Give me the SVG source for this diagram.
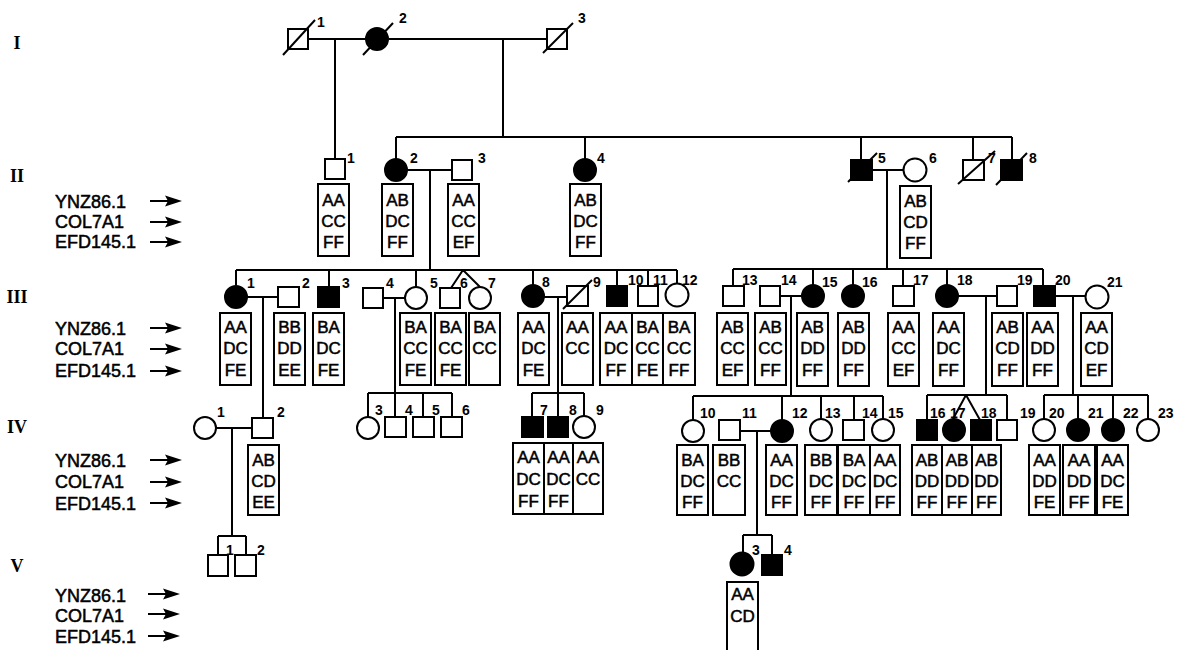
<svg xmlns="http://www.w3.org/2000/svg" width="1179" height="650" viewBox="0 0 1179 650">
<style>
.s{fill:#fff;stroke:#000;stroke-width:2}
.a{fill:#000;stroke:#000;stroke-width:2}
.ln{fill:none;stroke:#000;stroke-width:2}
.bx{fill:none;stroke:#000;stroke-width:2}
.g{font-family:"Liberation Sans",Arial,sans-serif;font-size:17px;text-anchor:middle;fill:#000;stroke:#000;stroke-width:0.5}
.n{font-family:"Liberation Sans",Arial,sans-serif;font-size:14px;font-weight:bold;fill:#000}
.m{font-family:"Liberation Sans",Arial,sans-serif;font-size:18px;fill:#000;stroke:#000;stroke-width:0.5}
.gen{font-family:"Liberation Serif","Times New Roman",serif;font-size:18px;font-weight:bold;text-anchor:middle;fill:#000}
</style>
<defs>
<g id="arr"><line x1="0" y1="0" x2="20" y2="0" stroke="#000" stroke-width="2"/><polygon points="15,-5.5 32,0 15,5.5 18,0" fill="#000"/></g>
</defs>
<rect width="1179" height="650" fill="#fff"/>

<g id="legend">
<text class="gen" x="17" y="49">I</text>
<text class="gen" x="17" y="182">II</text>
<text class="gen" x="17" y="303">III</text>
<text class="gen" x="17" y="433">IV</text>
<text class="gen" x="17" y="572">V</text>
<text class="m" x="55" y="208">YNZ86.1</text><text class="m" x="55" y="228">COL7A1</text><text class="m" x="55" y="248">EFD145.1</text>
<use href="#arr" x="150" y="201"/><use href="#arr" x="150" y="222"/><use href="#arr" x="150" y="242"/>
<text class="m" x="55" y="335">YNZ86.1</text><text class="m" x="55" y="355">COL7A1</text><text class="m" x="55" y="377">EFD145.1</text>
<use href="#arr" x="150" y="328"/><use href="#arr" x="150" y="349"/><use href="#arr" x="150" y="371"/>
<text class="m" x="55" y="467">YNZ86.1</text><text class="m" x="55" y="488">COL7A1</text><text class="m" x="55" y="510">EFD145.1</text>
<use href="#arr" x="150" y="460"/><use href="#arr" x="150" y="482"/><use href="#arr" x="150" y="503"/>
<text class="m" x="55" y="602">YNZ86.1</text><text class="m" x="55" y="622">COL7A1</text><text class="m" x="55" y="643">EFD145.1</text>
<use href="#arr" x="148" y="594"/><use href="#arr" x="148" y="614"/><use href="#arr" x="148" y="636"/>
</g>

<g id="connectors" class="ln">
<path d="M308 39H366M335 39V159M389 39H547M503 39V137M396 137H1012"/>
<path d="M396 137V159M585 137V159M861 137V160M973 137V160M1012 137V160"/>
<path d="M407 170H452M430 170V270M872 170H903M887 170V269"/>
<path d="M236 270H677M236 270V285M329 270V287M416 270V287M533 270V285M617 270V286M648 270V286M677 270V284M463 270L451 288M463 270L480 287"/>
<path d="M733 269H1043M733 269V286M813 269V285M853 269V285M903 269V286M947 269V285M1043 269V286"/>
<path d="M247 297H278M263 297V418M383 298H405M395 298V417M544 297H567M558 297V417"/>
<path d="M780 296H802M791 296V396M958 296H997M986 296V395M1055 296H1086M1073 296V395"/>
<path d="M368 393H452M368 393V417M423 393V417M452 393V417M532 393V417M532 393H584M584 393V416"/>
<path d="M693 396H883M693 396V420M782 396V420M821 396V419M854 396V420M883 396V419"/>
<path d="M927 395H1007M927 395V420M1007 395V420M966 395L953 419M966 395L980 420"/>
<path d="M1044 395H1148M1044 395V419M1078 395V419M1113 395V419M1148 395V419"/>
<path d="M216 428H252M232 428V536M218 536H246M218 536V555M246 536V555"/>
<path d="M740 431H771M757 431V535M743 535H772M743 535V553M772 535V555"/>
</g>

<g id="I-1"><rect class="s" x="288" y="29" width="20" height="20"/><line class="ln" x1="283" y1="55" x2="315" y2="20"/><text class="n" x="317" y="27">1</text></g>
<g id="I-2"><circle class="a" cx="377" cy="39" r="11"/><line class="ln" x1="363" y1="55" x2="393" y2="23"/><text class="n" x="399" y="23">2</text></g>
<g id="I-3"><rect class="s" x="547" y="29" width="20" height="20"/><line class="ln" x1="543" y1="53" x2="573" y2="23"/><text class="n" x="578" y="23">3</text></g>

<g id="II-1"><rect class="s" x="325" y="159" width="20" height="20"/><text class="n" x="347" y="163">1</text>
<rect class="bx" x="318" y="184" width="31" height="72"/><text class="g" x="333.5" y="206">AA</text><text class="g" x="333.5" y="227">CC</text><text class="g" x="333.5" y="248">FF</text></g>
<g id="II-2"><circle class="a" cx="396" cy="170" r="11"/><text class="n" x="410" y="163">2</text>
<rect class="bx" x="382" y="184" width="31" height="72"/><text class="g" x="397.5" y="206">AB</text><text class="g" x="397.5" y="227">DC</text><text class="g" x="397.5" y="248">FF</text></g>
<g id="II-3"><rect class="s" x="452" y="160" width="20" height="20"/><text class="n" x="478" y="163">3</text>
<rect class="bx" x="448" y="184" width="31" height="72"/><text class="g" x="463.5" y="206">AA</text><text class="g" x="463.5" y="227">CC</text><text class="g" x="463.5" y="248">EF</text></g>
<g id="II-4"><circle class="a" cx="585" cy="170" r="11"/><text class="n" x="597" y="163">4</text>
<rect class="bx" x="570" y="184" width="31" height="72"/><text class="g" x="585.5" y="206">AB</text><text class="g" x="585.5" y="227">DC</text><text class="g" x="585.5" y="248">FF</text></g>
<g id="II-5"><rect class="a" x="851" y="160" width="21" height="20"/><line class="ln" x1="848" y1="182" x2="877" y2="153"/><text class="n" x="878" y="163">5</text></g>
<g id="II-6"><circle class="s" cx="915" cy="170" r="11.5"/><text class="n" x="929" y="163">6</text>
<rect class="bx" x="900" y="186" width="31" height="72"/><text class="g" x="915.5" y="207">AB</text><text class="g" x="915.5" y="228">CD</text><text class="g" x="915.5" y="249">FF</text></g>
<g id="II-7"><rect class="s" x="963" y="160" width="21" height="20"/><line class="ln" x1="958" y1="184" x2="995" y2="151"/><text class="n" x="988" y="163">7</text></g>
<g id="II-8"><rect class="a" x="1001" y="160" width="21" height="20"/><line class="ln" x1="996" y1="185" x2="1027" y2="153"/><text class="n" x="1029" y="163">8</text></g>

<g id="III-1"><circle class="a" cx="236" cy="297" r="11"/><text class="n" x="247" y="288">1</text>
<rect class="bx" x="220" y="313" width="31" height="72"/><text class="g" x="235.5" y="333">AA</text><text class="g" x="235.5" y="354">DC</text><text class="g" x="235.5" y="376">FE</text></g>
<g id="III-2"><rect class="s" x="278" y="287" width="21" height="20"/><text class="n" x="302" y="288">2</text>
<rect class="bx" x="274" y="313" width="31" height="72"/><text class="g" x="289.5" y="333">BB</text><text class="g" x="289.5" y="354">DD</text><text class="g" x="289.5" y="376">EE</text></g>
<g id="III-3"><rect class="a" x="318" y="287" width="21" height="20"/><text class="n" x="342" y="288">3</text>
<rect class="bx" x="313" y="313" width="31" height="72"/><text class="g" x="328.5" y="333">BA</text><text class="g" x="328.5" y="354">DC</text><text class="g" x="328.5" y="376">FE</text></g>
<g id="III-4"><rect class="s" x="363" y="288" width="20" height="20"/><text class="n" x="386" y="288">4</text></g>
<g id="III-5"><circle class="s" cx="416" cy="298" r="11"/><text class="n" x="430" y="288">5</text>
<rect class="bx" x="400" y="313" width="31" height="72"/><text class="g" x="415.5" y="333">BA</text><text class="g" x="415.5" y="354">CC</text><text class="g" x="415.5" y="376">FE</text></g>
<g id="III-6"><rect class="s" x="440" y="288" width="20" height="20"/><text class="n" x="460" y="288">6</text>
<rect class="bx" x="435" y="313" width="31" height="72"/><text class="g" x="450.5" y="333">BA</text><text class="g" x="450.5" y="354">CC</text><text class="g" x="450.5" y="376">FE</text></g>
<g id="III-7"><circle class="s" cx="480" cy="298" r="11"/><text class="n" x="488" y="288">7</text>
<rect class="bx" x="469" y="313" width="31" height="72"/><text class="g" x="484.5" y="333">BA</text><text class="g" x="484.5" y="354">CC</text></g>
<g id="III-8"><circle class="a" cx="533" cy="296" r="11"/><text class="n" x="542" y="287">8</text>
<rect class="bx" x="518" y="313" width="31" height="72"/><text class="g" x="533.5" y="333">AA</text><text class="g" x="533.5" y="354">DC</text><text class="g" x="533.5" y="376">FE</text></g>
<g id="III-9"><rect class="s" x="567" y="286" width="21" height="20"/><line class="ln" x1="563" y1="309" x2="592" y2="280"/><text class="n" x="593" y="287">9</text>
<rect class="bx" x="562" y="313" width="31" height="72"/><text class="g" x="577.5" y="333">AA</text><text class="g" x="577.5" y="354">CC</text></g>
<g id="III-10"><rect class="a" x="607" y="286" width="20" height="20"/><text class="n" x="628" y="285">10</text>
<rect class="bx" x="600" y="313" width="32" height="72"/><text class="g" x="616" y="333">AA</text><text class="g" x="616" y="354">DC</text><text class="g" x="616" y="376">FF</text></g>
<g id="III-11"><rect class="s" x="638" y="286" width="20" height="20"/><text class="n" x="653" y="285">11</text>
<rect class="bx" x="632" y="313" width="31" height="72"/><text class="g" x="647.5" y="333">BA</text><text class="g" x="647.5" y="354">CC</text><text class="g" x="647.5" y="376">FE</text></g>
<g id="III-12"><circle class="s" cx="677" cy="295" r="11.5"/><text class="n" x="682" y="285">12</text>
<rect class="bx" x="663" y="313" width="32" height="72"/><text class="g" x="679" y="333">BA</text><text class="g" x="679" y="354">CC</text><text class="g" x="679" y="376">FF</text></g>
<g id="III-13"><rect class="s" x="723" y="286" width="21" height="20"/><text class="n" x="742" y="285">13</text>
<rect class="bx" x="717" y="313" width="31" height="72"/><text class="g" x="732.5" y="333">AB</text><text class="g" x="732.5" y="354">CC</text><text class="g" x="732.5" y="376">EF</text></g>
<g id="III-14"><rect class="s" x="760" y="286" width="20" height="20"/><text class="n" x="781" y="285">14</text>
<rect class="bx" x="755" y="313" width="31" height="72"/><text class="g" x="770.5" y="333">AB</text><text class="g" x="770.5" y="354">CC</text><text class="g" x="770.5" y="376">FF</text></g>
<g id="III-15"><circle class="a" cx="813" cy="296" r="11"/><text class="n" x="822" y="287">15</text>
<rect class="bx" x="797" y="313" width="31" height="73"/><text class="g" x="812.5" y="333">AB</text><text class="g" x="812.5" y="354">DD</text><text class="g" x="812.5" y="376">FF</text></g>
<g id="III-16"><circle class="a" cx="853" cy="296" r="11"/><text class="n" x="862" y="287">16</text>
<rect class="bx" x="838" y="313" width="31" height="73"/><text class="g" x="853.5" y="333">AB</text><text class="g" x="853.5" y="354">DD</text><text class="g" x="853.5" y="376">FF</text></g>
<g id="III-17"><rect class="s" x="893" y="286" width="21" height="20"/><text class="n" x="913" y="285">17</text>
<rect class="bx" x="888" y="313" width="31" height="73"/><text class="g" x="903.5" y="333">AA</text><text class="g" x="903.5" y="354">CC</text><text class="g" x="903.5" y="376">EF</text></g>
<g id="III-18"><circle class="a" cx="947" cy="296" r="11"/><text class="n" x="957" y="285">18</text>
<rect class="bx" x="933" y="313" width="31" height="73"/><text class="g" x="948.5" y="333">AA</text><text class="g" x="948.5" y="354">DC</text><text class="g" x="948.5" y="376">FF</text></g>
<g id="III-19"><rect class="s" x="997" y="286" width="20" height="20"/><text class="n" x="1017" y="285">19</text>
<rect class="bx" x="992" y="313" width="31" height="73"/><text class="g" x="1007.5" y="333">AB</text><text class="g" x="1007.5" y="354">CD</text><text class="g" x="1007.5" y="376">FF</text></g>
<g id="III-20"><rect class="a" x="1034" y="286" width="21" height="20"/><text class="n" x="1055" y="285">20</text>
<rect class="bx" x="1027" y="313" width="31" height="73"/><text class="g" x="1042.5" y="333">AA</text><text class="g" x="1042.5" y="354">DD</text><text class="g" x="1042.5" y="376">FF</text></g>
<g id="III-21"><circle class="s" cx="1097" cy="297" r="11.5"/><text class="n" x="1107" y="287">21</text>
<rect class="bx" x="1081" y="313" width="31" height="73"/><text class="g" x="1096.5" y="333">AA</text><text class="g" x="1096.5" y="354">CD</text><text class="g" x="1096.5" y="376">EF</text></g>

<g id="IV-1"><circle class="s" cx="205" cy="428" r="11"/><text class="n" x="217" y="417">1</text></g>
<g id="IV-2"><rect class="s" x="252" y="418" width="21" height="20"/><text class="n" x="277" y="417">2</text>
<rect class="bx" x="248" y="445" width="31" height="70"/><text class="g" x="263.5" y="466">AB</text><text class="g" x="263.5" y="487">CD</text><text class="g" x="263.5" y="508">EE</text></g>
<g id="IV-3"><circle class="s" cx="368" cy="428" r="11"/><text class="n" x="375" y="415">3</text></g>
<g id="IV-4"><rect class="s" x="385" y="417" width="21" height="20"/><text class="n" x="405" y="415">4</text></g>
<g id="IV-5"><rect class="s" x="413" y="417" width="21" height="20"/><text class="n" x="432" y="415">5</text></g>
<g id="IV-6"><rect class="s" x="441" y="417" width="21" height="20"/><text class="n" x="462" y="415">6</text></g>
<g id="IV-7"><rect class="a" x="522" y="417" width="21" height="20"/><text class="n" x="540" y="415">7</text>
<rect class="bx" x="513" y="443" width="31" height="71"/><text class="g" x="528.5" y="463">AA</text><text class="g" x="528.5" y="485">DC</text><text class="g" x="528.5" y="507">FF</text></g>
<g id="IV-8"><rect class="a" x="548" y="417" width="20" height="20"/><text class="n" x="569" y="415">8</text>
<rect class="bx" x="544" y="443" width="29" height="71"/><text class="g" x="558.5" y="463">AA</text><text class="g" x="558.5" y="485">DC</text><text class="g" x="558.5" y="507">FF</text></g>
<g id="IV-9"><circle class="s" cx="584" cy="427" r="11"/><text class="n" x="596" y="415">9</text>
<rect class="bx" x="573" y="443" width="30" height="71"/><text class="g" x="588" y="463">AA</text><text class="g" x="588" y="485">CC</text></g>
<g id="IV-10"><circle class="s" cx="693" cy="431" r="11"/><text class="n" x="700" y="418">10</text>
<rect class="bx" x="677" y="445" width="31" height="70"/><text class="g" x="692.5" y="466">BA</text><text class="g" x="692.5" y="487">DC</text><text class="g" x="692.5" y="508">FF</text></g>
<g id="IV-11"><rect class="s" x="719" y="420" width="21" height="20"/><text class="n" x="742" y="418">11</text>
<rect class="bx" x="713" y="445" width="32" height="70"/><text class="g" x="729" y="466">BB</text><text class="g" x="729" y="487">CC</text></g>
<g id="IV-12"><circle class="a" cx="782" cy="431" r="11"/><text class="n" x="792" y="418">12</text>
<rect class="bx" x="766" y="445" width="31" height="70"/><text class="g" x="781.5" y="466">AA</text><text class="g" x="781.5" y="487">DC</text><text class="g" x="781.5" y="508">FF</text></g>
<g id="IV-13"><circle class="s" cx="821" cy="430" r="11"/><text class="n" x="825" y="418">13</text>
<rect class="bx" x="805" y="445" width="32" height="70"/><text class="g" x="821" y="466">BB</text><text class="g" x="821" y="487">DC</text><text class="g" x="821" y="508">FF</text></g>
<g id="IV-14"><rect class="s" x="843" y="420" width="21" height="20"/><text class="n" x="862" y="418">14</text>
<rect class="bx" x="838" y="445" width="32" height="70"/><text class="g" x="854" y="466">BA</text><text class="g" x="854" y="487">DC</text><text class="g" x="854" y="508">FF</text></g>
<g id="IV-15"><circle class="s" cx="883" cy="430" r="11"/><text class="n" x="888" y="418">15</text>
<rect class="bx" x="870" y="445" width="30" height="70"/><text class="g" x="885" y="466">AA</text><text class="g" x="885" y="487">DC</text><text class="g" x="885" y="508">FF</text></g>
<g id="IV-16"><rect class="a" x="917" y="420" width="20" height="20"/><text class="n" x="930" y="418">16</text>
<rect class="bx" x="912" y="445" width="30" height="70"/><text class="g" x="927" y="466">AB</text><text class="g" x="927" y="487">DD</text><text class="g" x="927" y="508">FF</text></g>
<g id="IV-17"><circle class="a" cx="954" cy="430" r="11"/><text class="n" x="950" y="418">17</text>
<rect class="bx" x="942" y="445" width="30" height="70"/><text class="g" x="957" y="466">AB</text><text class="g" x="957" y="487">DD</text><text class="g" x="957" y="508">FF</text></g>
<g id="IV-18"><rect class="a" x="971" y="420" width="20" height="20"/><text class="n" x="981" y="418">18</text>
<rect class="bx" x="972" y="445" width="29" height="70"/><text class="g" x="986.5" y="466">AB</text><text class="g" x="986.5" y="487">DD</text><text class="g" x="986.5" y="508">FF</text></g>
<g id="IV-19"><rect class="s" x="997" y="420" width="20" height="20"/><text class="n" x="1020" y="418">19</text></g>
<g id="IV-20"><circle class="s" cx="1044" cy="430" r="11"/><text class="n" x="1049" y="418">20</text>
<rect class="bx" x="1029" y="445" width="31" height="70"/><text class="g" x="1044.5" y="466">AA</text><text class="g" x="1044.5" y="487">DD</text><text class="g" x="1044.5" y="508">FE</text></g>
<g id="IV-21"><circle class="a" cx="1078" cy="430" r="11"/><text class="n" x="1088" y="418">21</text>
<rect class="bx" x="1063" y="445" width="32" height="70"/><text class="g" x="1079" y="466">AA</text><text class="g" x="1079" y="487">DD</text><text class="g" x="1079" y="508">FF</text></g>
<g id="IV-22"><circle class="a" cx="1113" cy="430" r="11"/><text class="n" x="1123" y="418">22</text>
<rect class="bx" x="1097" y="445" width="31" height="70"/><text class="g" x="1112.5" y="466">AA</text><text class="g" x="1112.5" y="487">DC</text><text class="g" x="1112.5" y="508">FE</text></g>
<g id="IV-23"><circle class="s" cx="1148" cy="430" r="11"/><text class="n" x="1158" y="418">23</text></g>

<g id="V-1"><rect class="s" x="208" y="555" width="20" height="21"/><text class="n" x="226" y="555">1</text></g>
<g id="V-2"><rect class="s" x="235" y="555" width="21" height="21"/><text class="n" x="257" y="555">2</text></g>
<g id="V-3"><circle class="a" cx="742" cy="564" r="11.5"/><text class="n" x="752" y="555">3</text>
<rect class="bx" x="727" y="582" width="31" height="80"/><text class="g" x="742.5" y="600">AA</text><text class="g" x="742.5" y="622">CD</text></g>
<g id="V-4"><rect class="a" x="762" y="555" width="20" height="20"/><text class="n" x="784" y="555">4</text></g>
</svg>
